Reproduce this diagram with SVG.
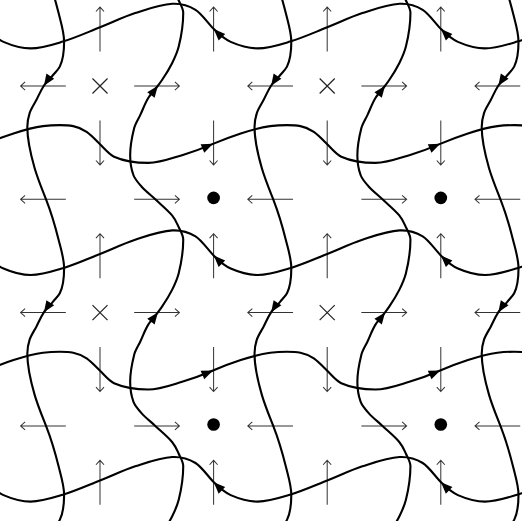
<svg xmlns="http://www.w3.org/2000/svg" width="522" height="521" viewBox="0 0 522 521">
<defs>
<style>
.thin{fill:none;stroke:#333;stroke-width:1;stroke-linejoin:miter}
.mark{fill:none;stroke:#222;stroke-width:1.2}
.curve{fill:none;stroke:#000;stroke-width:2.1;stroke-linecap:round;stroke-linejoin:round}
.head{fill:#000;stroke:none}
.dot{fill:#000}
</style>
<path id="au" class="thin" d="M0,22.2 V-22.2 M-4,-17.8 L0,-22.2 L4,-17.8"/>
<path id="ad" class="thin" d="M0,-22.2 V22.2 M-4,17.8 L0,22.2 L4,17.8"/>
<path id="al" class="thin" d="M22.5,0 H-22.5 M-18,-4 L-22.5,0 L-18,4"/>
<path id="ar" class="thin" d="M-22.5,0 H22.5 M18,-4 L22.5,0 L18,4"/>
<path id="cross" class="mark" d="M-7.5,-7.5 L7.5,7.5 M-7.5,7.5 L7.5,-7.5"/>
<path id="ah" class="head" d="M0.5,0 L-11,-4.6 L-11,4.6 Z"/>
<path id="h1" class="curve" d="M-195,48.5 c10.67,0 21.33,-3.56 32,-6.8 c12.33,-3.75 24.67,-9.34 37,-14.2 c11.67,-4.6 23.33,-10.4 35,-14.2 c12.33,-4.020 24.67,-8.68 37,-9.3 c7.67,-0.38 15.33,1.29 23,6 c6.17,3.79 12.33,13.33 18.5,19.5 c5.5,5.5 11,10.1 16.5,12.5 c9,3.93 18,6.5 27,6.5 c10.67,0 21.33,-3.56 32,-6.8 c12.33,-3.75 24.67,-9.34 37,-14.2 c11.67,-4.6 23.33,-10.4 35,-14.2 c12.33,-4.02 24.67,-8.68 37,-9.3 c7.67,-0.38 15.33,1.29 23,6 c6.17,3.79 12.33,13.33 18.5,19.5 c5.5,5.5 11,10.1 16.5,12.5 c9,3.93 18,6.5 27,6.5 c10.67,0 21.33,-3.56 32,-6.8 c12.33,-3.75 24.67,-9.34 37,-14.2 c11.67,-4.6 23.33,-10.4 35,-14.2 c12.33,-4.02 24.67,-8.68 37,-9.3 c7.67,-0.38 15.33,1.29 23,6 c6.17,3.79 12.33,13.33 18.5,19.5 c5.5,5.5 11,10.1 16.5,12.5 c9,3.93 18,6.5 27,6.5 c10.67,0 21.33,-3.56 32,-6.8 c12.33,-3.75 24.67,-9.34 37,-14.2 c11.67,-4.6 23.33,-10.4 35,-14.2 c12.33,-4.02 24.67,-8.68 37,-9.3 c7.67,-0.38 15.33,1.29 23,6 c6.17,3.79 12.33,13.33 18.5,19.5 c5.5,5.5 11,10.1 16.5,12.5 c9,3.93 18,6.5 27,6.5"/>
<path id="h2" class="curve" d="M-166,125 c8.9,0 17.8,0.47 26.7,6.7 c4.43,3.1 8.87,7.87 13.3,12.3 c4.67,4.67 9.33,10.4 14,12.5 c11.33,5.1 22.67,6.2 34,6.2 c11.23,0 22.47,-4.33 33.7,-7.7 c10.43,-3.13 20.87,-7.01 31.3,-11.5 c9,-3.87 18,-7.27 27,-10.2 c9.77,-3.17 19.53,-6.03 29.3,-7.3 c5.57,-0.72 11.13,-1 16.7,-1 c8.9,0 17.8,0.47 26.7,6.7 c4.43,3.1 8.87,7.87 13.3,12.3 c4.67,4.67 9.33,10.4 14,12.5 c11.33,5.1 22.67,6.2 34,6.2 c11.23,0 22.47,-4.33 33.7,-7.7 c10.43,-3.13 20.87,-7.01 31.3,-11.5 c9,-3.87 18,-7.27 27,-10.2 c9.77,-3.17 19.53,-6.03 29.3,-7.3 c5.57,-0.72 11.13,-1 16.7,-1 c8.9,0 17.8,0.47 26.7,6.7 c4.43,3.1 8.87,7.87 13.3,12.3 c4.67,4.67 9.33,10.4 14,12.5 c11.33,5.1 22.67,6.2 34,6.2 c11.23,0 22.47,-4.33 33.7,-7.7 c10.43,-3.13 20.87,-7.01 31.3,-11.5 c9,-3.87 18,-7.27 27,-10.2 c9.77,-3.17 19.53,-6.03 29.3,-7.3 c5.57,-0.72 11.13,-1 16.7,-1 c8.9,0 17.8,0.47 26.7,6.7 c4.43,3.1 8.87,7.87 13.3,12.3 c4.67,4.67 9.33,10.4 14,12.5 c11.33,5.1 22.67,6.2 34,6.2 c11.23,0 22.47,-4.33 33.7,-7.7 c10.43,-3.13 20.87,-7.01 31.3,-11.5 c9,-3.87 18,-7.27 27,-10.2 c9.77,-3.17 19.53,-6.03 29.3,-7.3 c5.57,-0.72 11.13,-1 16.7,-1"/>
<path id="v1" class="curve" d="M64.3,-184.3 c0,8.33 -0.13,16.67 -4.3,25 c-1.38,2.77 -4.4,5.53 -6.7,8.3 c-3.05,3.67 -6.88,7.33 -9.3,11 c-3.08,4.67 -4.87,9.33 -7.3,14 c-2.25,4.33 -5.27,8.67 -6.7,13 c-1.54,4.67 -2.3,9.33 -2.3,14 c0,13.67 3.34,27.33 7.3,41 c3.09,10.67 7.54,21.33 11.7,32 c5.2,13.33 8.97,26.67 12.3,40 c2.31,9.23 5.3,18.47 5.3,27.7 c0,8.33 -0.13,16.67 -4.3,25 c-1.38,2.77 -4.4,5.53 -6.7,8.3 c-3.05,3.67 -6.88,7.33 -9.3,11 c-3.08,4.67 -4.87,9.33 -7.3,14 c-2.25,4.33 -5.27,8.67 -6.7,13 c-1.54,4.67 -2.3,9.33 -2.3,14 c0,13.67 3.34,27.33 7.3,41 c3.09,10.67 7.54,21.33 11.7,32 c5.2,13.33 8.97,26.67 12.3,40 c2.31,9.23 5.3,18.47 5.3,27.7 c0,8.33 -0.13,16.67 -4.3,25 c-1.38,2.77 -4.4,5.53 -6.7,8.3 c-3.05,3.67 -6.88,7.33 -9.3,11 c-3.08,4.67 -4.87,9.33 -7.3,14 c-2.25,4.33 -5.27,8.67 -6.7,13 c-1.54,4.67 -2.3,9.33 -2.3,14 c0,13.67 3.34,27.33 7.3,41 c3.09,10.67 7.54,21.33 11.7,32 c5.2,13.33 8.97,26.67 12.3,40 c2.31,9.23 5.3,18.47 5.3,27.7 c0,8.33 -0.13,16.67 -4.3,25 c-1.38,2.77 -4.4,5.53 -6.7,8.3 c-3.05,3.67 -6.88,7.33 -9.3,11 c-3.08,4.67 -4.87,9.33 -7.3,14 c-2.25,4.33 -5.27,8.67 -6.7,13 c-1.54,4.67 -2.3,9.33 -2.3,14 c0,13.67 3.34,27.33 7.3,41 c3.09,10.67 7.54,21.33 11.7,32 c5.2,13.33 8.97,26.67 12.3,40 c2.31,9.23 5.3,18.47 5.3,27.7"/>
<path id="v2" class="curve" d="M182.8,-213 c0,11.23 -1.69,22.47 -4.5,33.7 c-1.38,5.53 -3.83,11.07 -6.6,16.6 c-2.78,5.57 -6.21,11.13 -10,16.7 c-1.47,2.17 -3.05,4.33 -4.7,6.5 c-2.91,3.83 -6.7,7.67 -9,11.5 c-3.4,5.67 -5.34,11.33 -8,17 c-2.04,4.33 -4.92,8.67 -6,13 c-2.25,9 -4,18 -4,27 c0,6.67 0.83,13.33 3.3,20 c1.44,3.9 4.89,7.8 8.4,11.7 c3.69,4.1 8.95,8.2 13.3,12.3 c5.65,5.33 12.22,10.67 16.7,16 c3.28,3.9 4.81,7.8 6.6,11.7 c1.89,4.1 4.5,8.2 4.5,12.3 c0,11.23 -1.69,22.47 -4.5,33.7 c-1.38,5.53 -3.83,11.07 -6.6,16.6 c-2.78,5.57 -6.21,11.13 -10,16.7 c-1.47,2.17 -3.05,4.33 -4.7,6.5 c-2.91,3.83 -6.7,7.67 -9,11.5 c-3.4,5.67 -5.34,11.33 -8,17 c-2.04,4.33 -4.92,8.67 -6,13 c-2.25,9 -4,18 -4,27 c0,6.67 0.83,13.33 3.3,20 c1.44,3.9 4.89,7.8 8.4,11.7 c3.69,4.1 8.95,8.2 13.3,12.3 c5.65,5.33 12.22,10.67 16.7,16 c3.28,3.9 4.81,7.8 6.6,11.7 c1.89,4.1 4.5,8.2 4.5,12.3 c0,11.23 -1.69,22.47 -4.5,33.7 c-1.38,5.53 -3.83,11.07 -6.6,16.6 c-2.78,5.57 -6.21,11.13 -10,16.7 c-1.47,2.17 -3.05,4.33 -4.7,6.5 c-2.91,3.83 -6.7,7.67 -9,11.5 c-3.4,5.67 -5.34,11.33 -8,17 c-2.04,4.33 -4.92,8.67 -6,13 c-2.25,9 -4,18 -4,27 c0,6.67 0.83,13.33 3.3,20 c1.44,3.9 4.89,7.8 8.4,11.7 c3.69,4.1 8.95,8.2 13.3,12.3 c5.65,5.33 12.22,10.67 16.7,16 c3.28,3.9 4.81,7.8 6.6,11.7 c1.89,4.1 4.5,8.2 4.5,12.3 c0,11.23 -1.69,22.47 -4.5,33.7 c-1.38,5.53 -3.83,11.07 -6.6,16.6 c-2.78,5.57 -6.21,11.13 -10,16.7 c-1.47,2.17 -3.05,4.33 -4.7,6.5 c-2.91,3.83 -6.7,7.67 -9,11.5 c-3.4,5.67 -5.34,11.33 -8,17 c-2.04,4.33 -4.92,8.67 -6,13 c-2.25,9 -4,18 -4,27 c0,6.67 0.83,13.33 3.3,20 c1.44,3.9 4.89,7.8 8.4,11.7 c3.69,4.1 8.95,8.2 13.3,12.3 c5.65,5.33 12.22,10.67 16.7,16 c3.28,3.9 4.81,7.8 6.6,11.7 c1.89,4.1 4.5,8.2 4.5,12.3"/>
</defs>
<rect width="522" height="521" fill="#fff"/>
<g transform="matrix(1.0053 0 0 1.0027 -0.53 -0.23)">
<g id="field-arrows">
<use href="#au" x="100" y="29.5"/><use href="#au" x="213" y="29.5"/><use href="#au" x="326" y="29.5"/><use href="#au" x="439" y="29.5"/>
<use href="#ad" x="100" y="142.5"/><use href="#ad" x="213" y="142.5"/><use href="#ad" x="326" y="142.5"/><use href="#ad" x="439" y="142.5"/>
<use href="#au" x="100" y="255.5"/><use href="#au" x="213" y="255.5"/><use href="#au" x="326" y="255.5"/><use href="#au" x="439" y="255.5"/>
<use href="#ad" x="100" y="368.5"/><use href="#ad" x="213" y="368.5"/><use href="#ad" x="326" y="368.5"/><use href="#ad" x="439" y="368.5"/>
<use href="#au" x="100" y="481.5"/><use href="#au" x="213" y="481.5"/><use href="#au" x="326" y="481.5"/><use href="#au" x="439" y="481.5"/>
<use href="#al" x="43.5" y="86"/><use href="#ar" x="156.5" y="86"/><use href="#al" x="269.5" y="86"/><use href="#ar" x="382.5" y="86"/><use href="#al" x="495.5" y="86"/>
<use href="#al" x="43.5" y="199"/><use href="#ar" x="156.5" y="199"/><use href="#al" x="269.5" y="199"/><use href="#ar" x="382.5" y="199"/><use href="#al" x="495.5" y="199"/>
<use href="#al" x="43.5" y="312"/><use href="#ar" x="156.5" y="312"/><use href="#al" x="269.5" y="312"/><use href="#ar" x="382.5" y="312"/><use href="#al" x="495.5" y="312"/>
<use href="#al" x="43.5" y="425"/><use href="#ar" x="156.5" y="425"/><use href="#al" x="269.5" y="425"/><use href="#ar" x="382.5" y="425"/><use href="#al" x="495.5" y="425"/>
</g>
<g id="saddle-1"><use href="#cross" x="100" y="86"/></g>
<g id="saddle-2"><use href="#cross" x="326" y="86"/></g>
<g id="saddle-3"><use href="#cross" x="100" y="312"/></g>
<g id="saddle-4"><use href="#cross" x="326" y="312"/></g>
<g id="point-1"><circle class="dot" cx="213" cy="197.6" r="6.3"/></g>
<g id="point-2"><circle class="dot" cx="439" cy="197.6" r="6.3"/></g>
<g id="point-3"><circle class="dot" cx="213" cy="423.6" r="6.3"/></g>
<g id="point-4"><circle class="dot" cx="439" cy="423.6" r="6.3"/></g>
<g id="connectors">
<use href="#h1"/><use href="#h1" y="226"/><use href="#h1" y="452"/>
<use href="#h2"/><use href="#h2" y="226"/>
<use href="#v1"/><use href="#v1" x="226"/><use href="#v1" x="452"/>
<use href="#v2"/><use href="#v2" x="226"/>
<use href="#ah" transform="translate(213.5,29.5) rotate(-135)"/>
<use href="#ah" transform="translate(439.5,29.5) rotate(-135)"/>
<use href="#ah" transform="translate(213.5,255.5) rotate(-135)"/>
<use href="#ah" transform="translate(439.5,255.5) rotate(-135)"/>
<use href="#ah" transform="translate(213.5,481.5) rotate(-135)"/>
<use href="#ah" transform="translate(439.5,481.5) rotate(-135)"/>
<use href="#ah" transform="translate(212,143.9) rotate(-23.3)"/>
<use href="#ah" transform="translate(438,143.9) rotate(-23.3)"/>
<use href="#ah" transform="translate(212,369.9) rotate(-23.3)"/>
<use href="#ah" transform="translate(438,369.9) rotate(-23.3)"/>
<use href="#ah" transform="translate(44.5,85.3) rotate(123.4)"/>
<use href="#ah" transform="translate(270.5,85.3) rotate(123.4)"/>
<use href="#ah" transform="translate(496.5,85.3) rotate(123.4)"/>
<use href="#ah" transform="translate(44.5,311.3) rotate(123.4)"/>
<use href="#ah" transform="translate(270.5,311.3) rotate(123.4)"/>
<use href="#ah" transform="translate(496.5,311.3) rotate(123.4)"/>
<use href="#ah" transform="translate(157.3,86.2) rotate(-52.8)"/>
<use href="#ah" transform="translate(383.3,86.2) rotate(-52.8)"/>
<use href="#ah" transform="translate(157.3,312.2) rotate(-52.8)"/>
<use href="#ah" transform="translate(383.3,312.2) rotate(-52.8)"/>
</g>
</g>
</svg>
